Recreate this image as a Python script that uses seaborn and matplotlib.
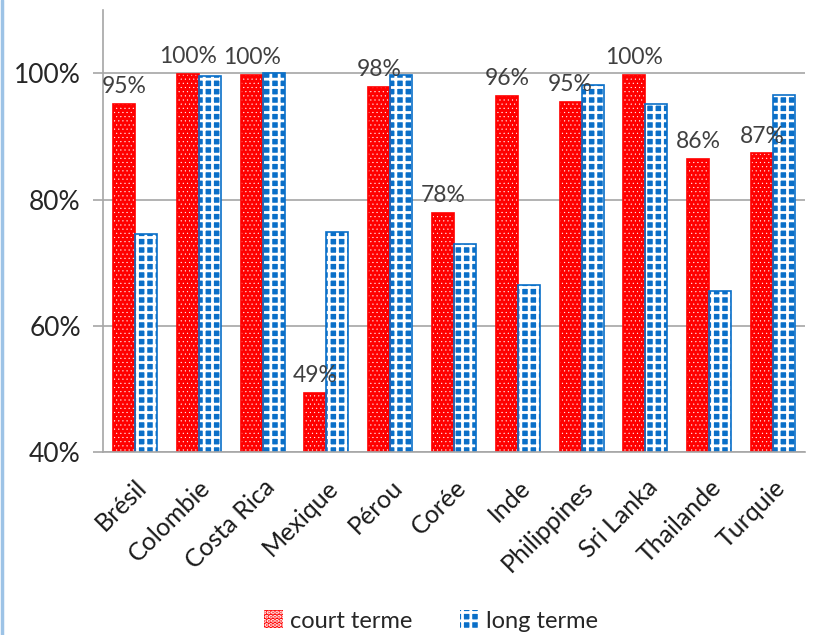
import numpy as np
import pandas as pd
import seaborn as sns
import matplotlib.pyplot as plt
from matplotlib.patches import Rectangle, Patch
from matplotlib.lines import Line2D

# data
countries = ['Brésil', 'Colombie', 'Costa Rica', 'Mexique', 'Pérou', 'Corée',
             'Inde', 'Philippines', 'Sri Lanka', 'Thailande', 'Turquie']
court_terme = [95.1, 99.9, 99.7, 49.4, 97.8, 77.9, 96.4, 95.4, 99.7, 86.4, 87.3]
long_terme = [74.6, 99.5, 100.0, 74.8, 99.7, 73.0, 66.4, 98.1, 95.2, 65.5, 96.5]
series = ['court terme', 'long terme']

red = '#ff0000'
blue = '#0a6fc8'
txt = '#404040'

df = pd.DataFrame({
    'pays': countries * 2,
    'valeur': court_terme + long_terme,
    'serie': [series[0]] * len(countries) + [series[1]] * len(countries),
})

sns.set_style('white')
plt.rcParams['font.family'] = ['Lato', 'DejaVu Sans']
plt.rcParams['hatch.linewidth'] = 2.0

fig = plt.figure(figsize=(8.21, 6.35), dpi=100)
ax = fig.add_axes([0.1255, 0.288, 0.855, 0.696])

sns.barplot(data=df, x='pays', y='valeur', hue='serie', order=countries,
            hue_order=series, palette=[red, blue], width=0.69, gap=0,
            saturation=1, legend=False, ax=ax)

styles = [(red, '....', 0.3), (blue, '++', 2.0)]


def pattern(p, hatch, hlw):
    p.set_hatch(hatch)
    p.set_edgecolor('white')
    p.set_linewidth(0)
    if hasattr(p, 'set_hatch_linewidth'):
        p.set_hatch_linewidth(hlw)


# patterns: white hatch on coloured face, coloured outline on top
for cont, (col, hatch, hlw) in zip(ax.containers, styles):
    for p in cont:
        pattern(p, hatch, hlw)
        ax.add_patch(Rectangle(p.get_xy(), p.get_width(), p.get_height(),
                               fill=False, edgecolor=col, linewidth=1.2, zorder=p.get_zorder() + 0.1))

ax.bar_label(ax.containers[0], labels=[f'{v:.0f}%' for v in court_terme],
             padding=5, fontsize=16.5, color=txt)

ax.set_ylim(40, 110)
ax.set_xlim(-0.5, len(countries) - 0.5)
ax.set_yticks([40, 60, 80, 100])
ax.set_yticklabels([f'{t}%' for t in [40, 60, 80, 100]], fontsize=19, color='#262626')
ax.yaxis.grid(True, color='#a6a6a6', linewidth=1.2)
ax.set_axisbelow(True)

ax.set_xticks(range(len(countries)))
ax.set_xticklabels(countries, rotation=45, ha='right', rotation_mode='anchor', fontsize=18, color='#1a1a1a')
ax.set_xticks(np.arange(-0.5, len(countries), 1), minor=True)
ax.tick_params(axis='x', which='major', length=0, pad=17)
ax.tick_params(axis='x', which='minor', length=6, color='#a6a6a6', width=1.2)
ax.tick_params(axis='y', length=7, color='#a6a6a6', width=1.2, left=True, pad=9)
ax.set_xlabel('')
ax.set_ylabel('')

sns.despine(ax=ax, top=True, right=True)
for s in ['left', 'bottom']:
    ax.spines[s].set_color('#a6a6a6')
    ax.spines[s].set_linewidth(1.2)

handles = [Patch(facecolor=red), Patch(facecolor=blue)]
for h, (col, hatch, hlw) in zip(handles, styles):
    pattern(h, hatch, hlw)
fig.legend(handles, series, loc='lower center', bbox_to_anchor=(0.525, -0.028), ncol=2,
           frameon=False, fontsize=17, handlelength=0.8, handleheight=0.8,
           handletextpad=0.3, columnspacing=2.0)

# thin blue border on the left edge of the picture
fig.add_artist(Line2D([0.002, 0.002], [0, 1], color='#9dc3e6', linewidth=2.5, transform=fig.transFigure))

fig.savefig('out.png', dpi=100)
